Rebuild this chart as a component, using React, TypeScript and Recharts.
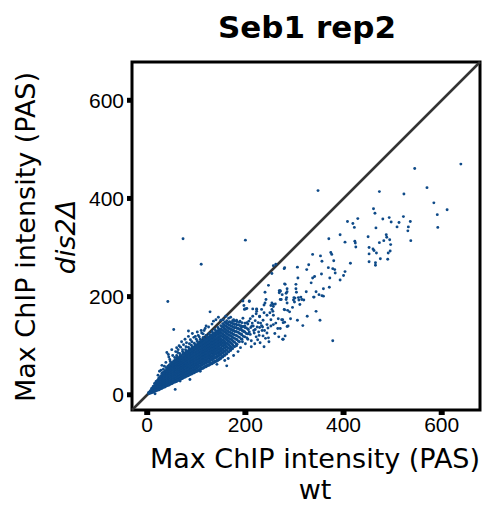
import { ScatterChart, Scatter, XAxis, YAxis, ReferenceLine, ReferenceArea } from 'recharts';

// axis setup shared by both axes (same scale on x and y)
const axisTicks = [0, 200, 400, 600];
const axisDomain: [number, number] = [-31, 678];

// [wt, dis2] pairs
const outliers: [number, number][] = [
  [348, 416], [545, 461], [639, 470], [473, 414], [570, 422], [523, 409], [584, 391],
  [611, 377], [591, 367], [592, 341], [73, 318], [200, 315], [110, 266], [42, 190],
];

const highRange: [number, number][] = [
  [461, 379], [464, 370], [429, 359], [408, 353], [419, 349], [422, 341], [393, 326],
  [370, 318], [403, 311], [423, 313], [424, 309], [425, 301], [450, 322], [452, 300],
  [460, 297], [480, 358], [493, 361], [497, 352], [513, 351], [522, 363], [536, 353],
  [509, 342], [532, 342], [531, 334], [466, 340], [487, 326], [488, 321], [494, 316],
  [482, 314], [473, 310], [496, 306], [537, 314], [452, 287], [462, 294], [467, 289],
  [452, 271], [465, 269], [465, 264], [475, 277], [490, 276], [491, 289], [495, 293],
  [414, 268],
];

const midRange: [number, number][] = [
  [374, 290], [376, 286], [353, 283], [337, 286], [356, 272], [329, 265], [325, 255],
  [306, 260], [280, 259], [369, 259], [378, 257], [382, 255], [383, 248], [380, 273],
  [403, 251], [400, 243], [393, 234], [355, 246], [341, 241], [337, 238], [334, 228],
  [372, 238], [307, 238], [303, 225], [371, 219], [359, 216], [344, 210], [350, 204],
  [359, 201], [356, 202], [339, 199], [324, 210], [303, 216], [304, 209], [280, 226],
  [271, 212], [283, 207], [283, 194], [273, 194], [285, 187], [299, 198], [300, 189],
  [308, 198], [309, 193], [313, 199], [315, 194], [319, 193], [311, 184], [340, 199],
  [344, 170], [280, 173], [290, 169], [326, 160], [306, 152], [352, 152], [274, 153],
  [280, 148], [285, 139], [271, 135], [317, 141], [277, 113], [378, 110],
];

const shoulder: [number, number][] = [
  [257, 263], [262, 266], [254, 247], [247, 223], [269, 212], [269, 208], [285, 216],
  [285, 210], [301, 197], [271, 194], [240, 209], [242, 194], [257, 184], [261, 185],
  [252, 182], [238, 183], [208, 190], [223, 174], [233, 174], [198, 174], [238, 167],
  [250, 167], [254, 174], [257, 162], [252, 153], [279, 174], [286, 172], [267, 155],
  [276, 153], [277, 147], [266, 135], [281, 120], [252, 140], [257, 143], [215, 160],
  [222, 165], [229, 159], [210, 155], [203, 147], [199, 140], [192, 137], [206, 133],
  [216, 140], [220, 133], [229, 137], [233, 141], [239, 131], [244, 143], [210, 123],
  [222, 118], [203, 116], [192, 123], [227, 128], [196, 130], [199, 175], [279, 257],
  [281, 225], [271, 211], [275, 204], [284, 198], [298, 193], [240, 187], [254, 187],
  [257, 180], [256, 170], [244, 162], [203, 176], [223, 170], [229, 160], [287, 140],
  [276, 113], [244, 126], [247, 116], [230, 106], [195, 191], [208, 191], [197, 182],
  [201, 175], [215, 175], [223, 175], [212, 98], [225, 112], [236, 120], [248, 108],
  [260, 125], [268, 118], [200, 104], [218, 126], [190, 96], [185, 88], [176, 80],
  [165, 74], [158, 70], [170, 92], [182, 100], [194, 108], [205, 113], [238, 98],
  [213, 140], [226, 147], [236, 152], [246, 136], [262, 146], [292, 155], [296, 178],
  [208, 128], [211, 137], [214, 146], [217, 131], [220, 151], [224, 138], [228, 121],
  [231, 146], [234, 131], [212, 110], [207, 150], [219, 104], [241, 115], [235, 138],
];

const fringe: [number, number][] = [
  [54, 133], [84, 130], [128, 169], [110, 131], [106, 118], [40, 86], [43, 82], [50, 92],
  [60, 96], [77, 113], [84, 119], [98, 119], [111, 126], [120, 140], [135, 150],
  [145, 158], [155, 153], [176, 153], [182, 152], [189, 150], [160, 160], [170, 158],
  [30, 60], [25, 48], [65, 100], [92, 125], [140, 153], [118, 135], [102, 128], [70, 108],
  [57, 11], [87, 31], [128, 65], [16, 2], [67, 28], [108, 48], [142, 62], [162, 59],
  [35, 58], [38, 66], [46, 72], [52, 80], [58, 88], [63, 92], [68, 97], [74, 102],
  [80, 106], [88, 112], [95, 117], [33, 52], [47, 68], [56, 76], [79, 98], [91, 108],
  [104, 121], [116, 131], [125, 138], [132, 144], [150, 152], [166, 156], [195, 156],
  [22, 40], [28, 50], [44, 77], [62, 86], [72, 92], [86, 104], [100, 113], [114, 124],
];

// dense core: wt column with the dis2 values seen in that column
const coreColumns: [number, number[]][] = [
  [3, [2, 5]],
  [6, [3, 6, 8]],
  [9, [4, 7, 10, 13]],
  [12, [5, 8, 11, 14, 17]],
  [15, [7, 10, 13, 16, 19, 23]],
  [18, [8, 11, 14, 17, 20, 24, 27]],
  [21, [9, 12, 15, 18, 22, 25, 29]],
  [24, [10, 14, 17, 20, 23, 27, 31, 35]],
  [27, [12, 15, 19, 22, 25, 29, 33, 37]],
  [30, [13, 17, 20, 24, 27, 31, 35, 39, 44]],
  [33, [15, 18, 22, 26, 29, 33, 37, 41, 46]],
  [36, [16, 20, 24, 28, 31, 35, 39, 43, 48]],
  [39, [18, 22, 26, 30, 34, 37, 41, 45, 50, 55]],
  [42, [19, 23, 27, 32, 36, 39, 43, 48, 53, 58]],
  [45, [20, 25, 29, 33, 37, 41, 46, 50, 55, 61]],
  [48, [22, 26, 31, 35, 39, 43, 48, 52, 57, 64]],
  [51, [23, 28, 32, 37, 41, 45, 50, 54, 60, 66]],
  [54, [25, 29, 34, 39, 43, 47, 52, 57, 62, 69]],
  [57, [26, 31, 36, 40, 45, 49, 54, 59, 64, 71]],
  [60, [27, 33, 37, 42, 47, 51, 56, 61, 66, 73, 80]],
  [63, [29, 34, 39, 44, 49, 53, 58, 63, 68, 75]],
  [66, [30, 36, 41, 46, 51, 55, 60, 65, 71, 77, 84]],
  [69, [32, 37, 43, 48, 52, 57, 62, 67, 73, 79]],
  [72, [33, 39, 44, 49, 54, 59, 64, 69, 75, 82, 88]],
  [75, [35, 41, 46, 51, 56, 61, 66, 71, 77, 84]],
  [78, [36, 42, 48, 53, 58, 63, 68, 73, 79, 86, 92]],
  [81, [38, 44, 49, 55, 60, 65, 70, 75, 81, 88]],
  [84, [39, 45, 51, 57, 62, 67, 72, 77, 83, 90, 97]],
  [87, [41, 47, 53, 58, 64, 69, 74, 79, 85, 92]],
  [90, [42, 49, 55, 60, 65, 71, 76, 81, 87, 94, 101]],
  [93, [44, 50, 56, 62, 67, 72, 78, 83, 89, 96]],
  [96, [45, 52, 58, 64, 69, 74, 80, 85, 91, 98, 105]],
  [99, [47, 53, 60, 65, 71, 76, 82, 87, 93, 100]],
  [102, [48, 55, 61, 67, 73, 78, 84, 89, 95, 102, 109]],
  [105, [50, 57, 63, 69, 74, 80, 85, 91, 97, 104]],
  [108, [51, 58, 65, 71, 76, 82, 87, 93, 99, 106, 113]],
  [111, [53, 60, 66, 72, 78, 84, 89, 95, 101, 108]],
  [114, [54, 62, 68, 74, 80, 86, 91, 97, 103, 110, 117]],
  [117, [56, 63, 70, 76, 82, 87, 93, 99, 105, 112]],
  [120, [57, 65, 71, 78, 84, 89, 95, 101, 107, 114, 121]],
  [123, [59, 66, 73, 79, 85, 91, 97, 103, 109, 116]],
  [126, [60, 68, 75, 81, 87, 93, 99, 105, 111, 118, 125]],
  [129, [62, 70, 76, 83, 89, 95, 101, 107, 113, 120]],
  [132, [63, 71, 78, 85, 91, 97, 103, 109, 115, 122, 129]],
  [135, [65, 73, 80, 86, 92, 98, 104, 110, 117, 124]],
  [138, [67, 75, 82, 88, 94, 100, 106, 112, 119, 126, 133]],
  [141, [68, 76, 83, 90, 96, 102, 108, 114, 121, 128]],
  [144, [70, 78, 85, 92, 98, 104, 110, 116, 123, 130, 137]],
  [147, [72, 80, 87, 93, 100, 106, 112, 118, 125, 132]],
  [150, [74, 82, 89, 95, 102, 108, 114, 120, 127, 134, 141]],
  [154, [77, 85, 92, 99, 105, 111, 118, 124, 131, 138, 145]],
  [158, [80, 88, 95, 102, 108, 115, 121, 128, 134, 141, 148]],
  [162, [83, 91, 98, 105, 112, 118, 125, 131, 138, 145, 151]],
  [166, [87, 95, 102, 109, 115, 122, 128, 135, 142, 148]],
  [170, [90, 98, 106, 113, 120, 126, 133, 140, 147]],
  [174, [94, 102, 110, 117, 124, 131, 138, 145, 151]],
  [178, [98, 107, 115, 122, 129, 136, 143, 150]],
  [183, [103, 112, 120, 128, 135, 142, 149]],
  [188, [108, 117, 125, 133, 141, 148]],
  [193, [113, 122, 131, 139, 147]],
  [199, [118, 128, 137, 146]],
  [205, [124, 134, 144]],
];

// second pass over the core, between the columns above
const coreFill: [number, number[]][] = [
  [4.5, [4]],
  [7.5, [5, 8]],
  [10.5, [6, 9, 12]],
  [13.5, [7, 10, 13, 16]],
  [16.5, [9, 12, 15, 18, 22]],
  [19.5, [10, 13, 16, 19, 22, 26]],
  [22.5, [11, 14, 17, 20, 24, 27, 31]],
  [25.5, [12, 16, 19, 22, 25, 29, 33]],
  [28.5, [14, 17, 21, 24, 27, 31, 35, 39]],
  [31.5, [15, 19, 22, 26, 29, 33, 37, 41]],
  [34.5, [17, 21, 24, 28, 32, 35, 39, 44]],
  [37.5, [18, 22, 26, 30, 33, 37, 41, 46]],
  [40.5, [20, 24, 28, 32, 36, 39, 43, 48, 53]],
  [43.5, [21, 25, 30, 34, 38, 41, 46, 51, 56]],
  [46.5, [23, 27, 31, 36, 40, 44, 48, 53, 59]],
  [49.5, [24, 29, 33, 37, 41, 46, 50, 55, 61]],
  [52.5, [26, 30, 35, 39, 43, 48, 52, 58, 63]],
  [55.5, [27, 32, 36, 41, 45, 50, 55, 60, 66]],
  [58.5, [28, 34, 38, 43, 47, 52, 57, 62, 68]],
  [61.5, [30, 35, 40, 45, 49, 54, 59, 64, 70, 76]],
  [64.5, [31, 37, 42, 46, 51, 56, 61, 66, 72]],
  [67.5, [33, 38, 44, 49, 53, 58, 63, 68, 74, 80]],
  [70.5, [34, 40, 45, 50, 55, 60, 65, 70, 76]],
  [73.5, [36, 42, 47, 52, 57, 62, 67, 72, 78, 85]],
  [76.5, [37, 43, 49, 54, 59, 64, 69, 74, 81]],
  [79.5, [39, 45, 51, 56, 61, 66, 71, 76, 83, 89]],
  [82.5, [40, 46, 52, 58, 63, 68, 73, 78, 85]],
  [85.5, [42, 48, 54, 59, 65, 70, 75, 80, 87, 93]],
  [88.5, [43, 50, 56, 61, 66, 72, 77, 82, 89]],
  [91.5, [45, 51, 57, 63, 68, 73, 79, 84, 91, 97]],
  [94.5, [46, 53, 59, 65, 70, 75, 81, 86, 93]],
  [97.5, [48, 54, 61, 66, 72, 77, 83, 88, 95, 102]],
  [100.5, [49, 56, 62, 68, 74, 79, 85, 90, 97]],
  [103.5, [51, 58, 64, 70, 75, 81, 86, 92, 99, 106]],
  [106.5, [52, 59, 66, 72, 77, 83, 88, 94, 101]],
  [109.5, [54, 61, 67, 73, 79, 85, 90, 96, 103, 110]],
  [112.5, [55, 63, 69, 75, 81, 87, 92, 98, 105]],
  [115.5, [57, 64, 71, 77, 83, 88, 94, 100, 107, 114]],
  [118.5, [58, 66, 72, 79, 85, 90, 96, 102, 109]],
  [121.5, [60, 67, 74, 80, 86, 92, 98, 104, 111, 118]],
  [124.5, [61, 69, 76, 82, 88, 94, 100, 106, 113]],
  [127.5, [63, 71, 77, 84, 90, 96, 102, 108, 115, 122]],
  [130.5, [64, 72, 79, 86, 92, 98, 104, 110, 117]],
  [133.5, [66, 74, 81, 87, 93, 99, 105, 111, 119, 126]],
  [136.5, [68, 76, 83, 89, 95, 101, 107, 113, 121]],
  [139.5, [69, 77, 84, 91, 97, 103, 109, 115, 123, 130]],
  [142.5, [71, 79, 86, 93, 99, 105, 111, 117, 125]],
  [145.5, [73, 81, 88, 94, 101, 107, 113, 119, 127, 134]],
  [148.5, [75, 83, 90, 96, 103, 109, 115, 121, 129]],
  [152, [78, 86, 93, 100, 106, 112, 119, 125, 132, 139]],
  [156, [81, 89, 96, 103, 109, 116, 122, 129, 136, 143]],
  [160, [84, 92, 99, 106, 113, 119, 126, 133, 140, 147]],
  [164, [88, 96, 103, 110, 117, 123, 130, 137, 144]],
  [168, [91, 100, 107, 114, 121, 128, 135, 142, 149]],
  [172, [95, 104, 112, 119, 126, 133, 140, 147]],
  [176, [99, 108, 116, 123, 131, 138, 145]],
  [181, [104, 113, 121, 129, 137, 144]],
  [186, [109, 118, 127, 135, 143]],
  [191, [114, 124, 133, 141]],
  [196, [119, 129, 139]],
  [202, [125, 136]],
];

const corePairs: [number, number][] = [...coreColumns, ...coreFill].flatMap(([wt, ys]) =>
  ys.map((y) => [wt, y] as [number, number])
);

const points = [...corePairs, ...fringe, ...shoulder, ...midRange, ...highRange, ...outliers].map(
  ([wt, dis2]) => ({ wt, dis2 })
);

const DOT_COLOR = '#0e4a88';
const tickFont = { fill: '#000', fontSize: 21, fontFamily: 'Liberation Sans, Arial, sans-serif' };
const labelFont = 'DejaVu Sans, Verdana, sans-serif';

const Dot = (props: any) => <circle cx={props.cx} cy={props.cy} r={1.45} fill={DOT_COLOR} />;

export default function App() {
  return (
    <div style={{ position: 'absolute', left: 0, top: 0, width: 483, height: 506, background: '#fff' }}>
      <ScatterChart width={483} height={506} margin={{ top: 62, right: 3, bottom: 0, left: 0 }}>
        <XAxis
          type="number"
          dataKey="wt"
          domain={axisDomain}
          ticks={axisTicks}
          interval={0}
          allowDataOverflow
          height={96}
          tickSize={5}
          tickMargin={2}
          axisLine={false}
          tickLine={{ stroke: '#000', strokeWidth: 6 }}
          tick={tickFont}
        />
        <YAxis
          type="number"
          dataKey="dis2"
          domain={axisDomain}
          ticks={axisTicks}
          interval={0}
          allowDataOverflow
          width={132}
          tickSize={5}
          tickMargin={3}
          axisLine={false}
          tickLine={{ stroke: '#000', strokeWidth: 5 }}
          tick={tickFont}
        />
        <Scatter data={points} shape={Dot} isAnimationActive={false} />
        <ReferenceLine
          segment={[{ x: -31, y: -31 }, { x: 678, y: 678 }]}
          stroke="#333"
          strokeWidth={2.5}
          ifOverflow="visible"
        />
        <ReferenceArea
          x1={-31}
          x2={678}
          y1={-31}
          y2={678}
          fill="none"
          fillOpacity={0}
          stroke="#000"
          strokeWidth={3}
          strokeOpacity={1}
          ifOverflow="visible"
        />
      </ScatterChart>
      <svg
        width={483}
        height={506}
        style={{ position: 'absolute', left: 0, top: 0, pointerEvents: 'none' }}
      >
        <text x={307} y={38} textAnchor="middle" fontFamily={labelFont} fontWeight="bold" fontSize={31} fill="#000">
          Seb1 rep2
        </text>
        <text x={315} y={468} textAnchor="middle" fontFamily={labelFont} fontSize={27} fill="#000">
          Max ChIP intensity (PAS)
        </text>
        <text x={315} y={499} textAnchor="middle" fontFamily={labelFont} fontSize={27} fill="#000">
          wt
        </text>
        <text transform="rotate(-90)" x={-237} y={35} textAnchor="middle" fontFamily={labelFont} fontSize={27} fill="#000">
          Max ChIP intensity (PAS)
        </text>
        <text
          transform="rotate(-90)"
          x={-237}
          y={75}
          textAnchor="middle"
          fontFamily={labelFont}
          fontStyle="italic"
          fontSize={27}
          fill="#000"
        >
          dis2Δ
        </text>
      </svg>
    </div>
  );
}
